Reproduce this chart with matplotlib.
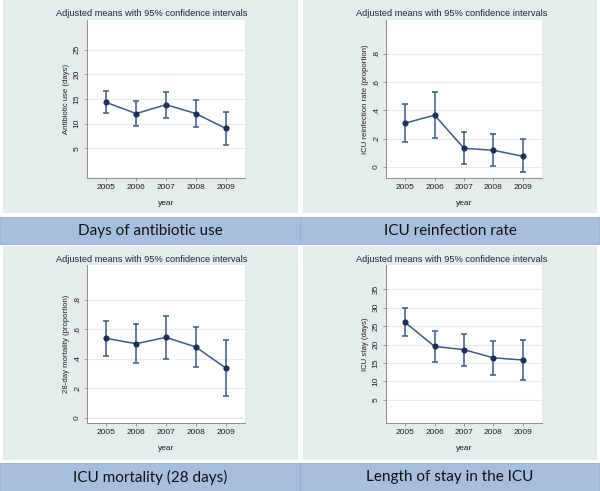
import matplotlib
matplotlib.use("Agg")
import matplotlib.pyplot as plt
from matplotlib.patches import Rectangle

# adjusted means and 95% CI per year
years = [2005, 2006, 2007, 2008, 2009]

abx_mean = [14.3, 12.05, 13.85, 12.05, 9.05]
abx_lo = [12.1, 9.45, 11.15, 9.35, 5.7]
abx_hi = [16.6, 14.6, 16.5, 14.75, 12.3]

reinf_mean = [0.31, 0.367, 0.132, 0.118, 0.076]
reinf_lo = [0.174, 0.202, 0.019, 0.005, -0.038]
reinf_hi = [0.447, 0.529, 0.245, 0.233, 0.195]

mort_mean = [0.539, 0.503, 0.546, 0.481, 0.339]
mort_lo = [0.422, 0.375, 0.398, 0.344, 0.151]
mort_hi = [0.658, 0.636, 0.694, 0.618, 0.528]

stay_mean = [26.0, 19.5, 18.6, 16.4, 15.8]
stay_lo = [22.2, 15.3, 14.1, 11.7, 10.3]
stay_hi = [29.8, 23.8, 23.0, 20.9, 21.3]

prop_ticks = [0, 0.2, 0.4, 0.6, 0.8]
prop_labels = ["0", ".2", ".4", ".6", ".8"]

banners = ["Days of antibiotic use", "ICU reinfection rate",
           "ICU mortality (28 days)", "Length of stay in the ICU"]

W, H = 600, 491
PANEL_BG = "#e4ecec"
BANNER = "#a7bfde"
NAVY = "#1b2f57"
LINE = "#3c5a84"
TXT = "#1e1e2a"

plt.rcParams['font.family'] = ['Liberation Sans', 'DejaVu Sans']

fig = plt.figure(figsize=(6, 4.91), dpi=100)
fig.patch.set_facecolor("white")


def frect(x0, y0, x1, y1):
    # pixel box (top-left origin) -> figure coords
    return [x0 / W, 1 - y1 / H, (x1 - x0) / W, (y1 - y0) / H]


def box(x0, y0, x1, y1, color, ec="none", lw=0):
    r = frect(x0, y0, x1, y1)
    fig.patches.append(Rectangle((r[0], r[1]), r[2], r[3], transform=fig.transFigure,
                                 facecolor=color, edgecolor=ec, linewidth=lw, zorder=-10))


# grey panels and blue banners
box(3, 0, 298, 213, PANEL_BG)
box(303, 0, 597, 213, PANEL_BG)
box(3, 246, 298, 460, PANEL_BG)
box(303, 246, 597, 460, PANEL_BG)
for y0, y1 in [(217, 244), (463, 491)]:
    box(0, y0, 300, y1, BANNER, ec="#94aed2", lw=0.6)
    box(300, y0, 599, y1, BANNER, ec="#94aed2", lw=0.6)

banner_pos = [(150, 231), (450, 231), (150, 477), (450, 477)]
for txt, (bx, by) in zip(banners, banner_pos):
    fig.text(bx / W, 1 - by / H, txt, ha="center", va="center",
             fontsize=11, color="#111111", family=["Lato", "DejaVu Sans"])


def panel(rect, title_x, title_y, mean, lo, hi, ylim, yticks, ylabels, ylab):
    ax = fig.add_axes(frect(*rect))
    ax.set_zorder(5)
    ax.set_facecolor("white")
    yerr = [[m - l for m, l in zip(mean, lo)], [h - m for m, h in zip(mean, hi)]]
    ax.errorbar(years, mean, yerr=yerr, fmt="none", ecolor=LINE, elinewidth=1.1,
                capsize=2.2, capthick=1.1, zorder=3)
    ax.plot(years, mean, color=LINE, lw=1.1, zorder=4)
    ax.plot(years, mean, "o", color=NAVY, ms=3.4, zorder=5)
    ax.set_xlim(2004.35, 2009.65)
    ax.set_ylim(*ylim)
    ax.set_xticks(years)
    ax.set_xticklabels([str(y) for y in years], fontsize=6.0, color=TXT)
    ax.set_yticks(yticks)
    ax.set_yticklabels(ylabels, fontsize=6.0, color=TXT, rotation=90, va="center")
    ax.grid(axis="y", color="#e4ecee", lw=0.8)
    ax.set_axisbelow(True)
    for s in ["top", "right"]:
        ax.spines[s].set_visible(False)
    for s in ["left", "bottom"]:
        ax.spines[s].set_color("#8c8c8c")
        ax.spines[s].set_linewidth(0.7)
    ax.tick_params(length=2.5, width=0.6, color="#8c8c8c", pad=2)
    ax.set_xlabel("year", fontsize=6.0, color=TXT, labelpad=6)
    ax.set_ylabel(ylab, fontsize=5.6, color=TXT, labelpad=3)
    fig.text(title_x / W, 1 - title_y / H, "Adjusted means with 95% confidence intervals",
             ha="center", va="center", fontsize=6.7, color="#1c2a48")
    return ax


panel((87, 20, 245, 178), 152, 14, abx_mean, abx_lo, abx_hi, (-1.0, 31.0),
      [5, 10, 15, 20, 25], ["5", "10", "15", "20", "25"], "Antibiotic use (days)")
panel((386, 20, 542, 178), 452, 14, reinf_mean, reinf_lo, reinf_hi, (-0.078, 1.04),
      prop_ticks, prop_labels, "ICU reinfection rate (proportion)")
panel((87, 265, 245, 423), 152, 259, mort_mean, mort_lo, mort_hi, (-0.034, 1.036),
      prop_ticks, prop_labels, "28-day mortality (proportion)")
panel((386, 265, 542, 423), 452, 259, stay_mean, stay_lo, stay_hi, (-1.3, 41.6),
      [5, 10, 15, 20, 25, 30, 35], ["5", "10", "15", "20", "25", "30", "35"],
      "ICU stay (days)")

fig.savefig("out.png", dpi=100)
